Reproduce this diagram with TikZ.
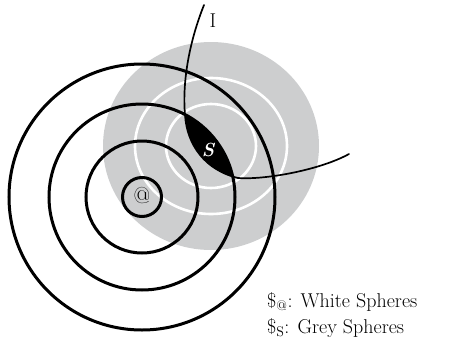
\documentclass[tikz,border=0pt]{standalone}
\usepackage{tikz}
\usetikzlibrary{positioning}
\definecolor{sphgrey}{RGB}{205,206,207}
\tikzstyle{ring} = [line width=3pt, draw=black]
\tikzstyle{whitering} = [line width=2.6pt, draw=white]
\tikzstyle{track} = [line width=1.7pt, draw=black, line cap=round]
\tikzstyle{legend} = [anchor=base west, inner sep=0pt, font=\fontsize{20}{22}\selectfont]
\begin{document}
\begin{tikzpicture}[x=1pt, y=-1pt]
    \useasboundingbox (0,0) rectangle (461,346);
    \coordinate (grey) at (211,146);
    \coordinate (white) at (142,197);
    % grey spheres
    \fill[sphgrey] (grey) ellipse [x radius=108pt, y radius=104pt];
    \draw[whitering] (grey) ellipse [x radius=76pt, y radius=68pt];
    \draw[whitering] (grey) ellipse [x radius=45pt, y radius=42pt];
    % white spheres
    \foreach \r in {19.5,56,93,133}
        \draw[ring] (white) circle [radius=\r pt];
    % lens
    \begin{scope}
        \clip (white) circle [radius=93pt];
        \fill (185,115) .. controls (187,145) and (205,170) .. (238,178) -- (400,178) -- (400,0) -- (185,0) -- cycle;
    \end{scope}
    \coordinate (top) at (204,5);
    \coordinate (lenstop) at (185,115);
    \coordinate (lensbot) at (238,178);
    \coordinate (end) at (349,154);
    \draw[track] (top) .. controls (190,40) and (182,80) .. (lenstop)
        .. controls (187,145) and (205,170) .. (lensbot)
        .. controls (265,180) and (320,170) .. (end);
    % labels
    \node (lbl) at (213,21) {\fontsize{20}{20}\selectfont I};
    \node (s) at (208,150) {\color{white}\fontsize{19}{19}\selectfont\bfseries\itshape S};
    \node (at) at (142,196) {\fontsize{23}{23}\selectfont @};
    \node (leg1) [legend] at (267,307) {\$\textsubscript{@}: White Spheres};
    \node (leg2) [legend] at (267,333) {\$\textsubscript{S}: Grey Spheres};
\end{tikzpicture}
\end{document}
